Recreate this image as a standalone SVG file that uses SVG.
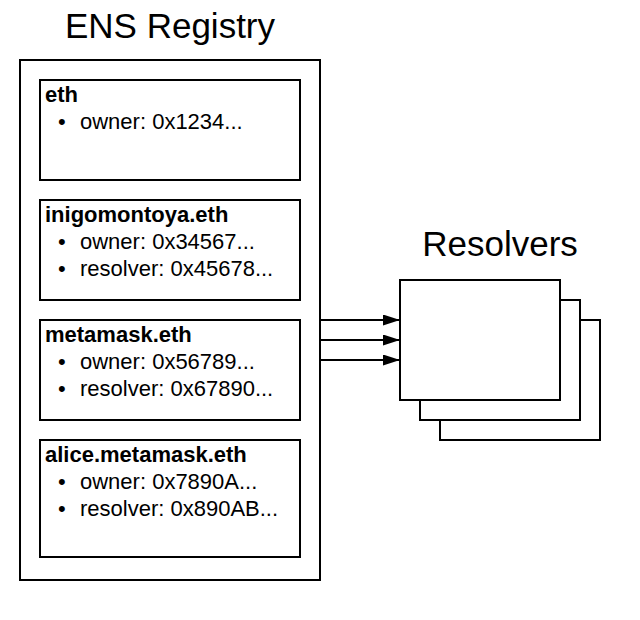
<svg xmlns="http://www.w3.org/2000/svg" width="640" height="620" viewBox="0 0 640 620">
<style>
.box{fill:#fff;stroke:#000;stroke-width:2}
.t{font-family:"Liberation Sans",Arial,sans-serif;fill:#000}
.h{font-size:35px}
.b{font-size:22px;font-weight:bold}
.i{font-size:22px}
.c{stroke:#000;stroke-width:2;fill:none}
</style>
<defs>
<marker id="ah" markerWidth="17" markerHeight="11" refX="17" refY="5.5" orient="auto" markerUnits="userSpaceOnUse">
<path d="M0,0 L17,5.5 L0,11 Z" fill="#000"/>
</marker>
</defs>
<rect width="640" height="620" fill="#fff"/>
<g id="registry">
<text class="t h" x="170" y="38" text-anchor="middle">ENS Registry</text>
<rect class="box" x="20" y="60" width="300" height="520"/>
</g>
<g id="eth">
<rect class="box" x="40" y="80" width="260" height="100"/>
<text class="t b" x="45" y="102">eth</text>
<text class="t i" x="58" y="129">•</text><text class="t i" x="80" y="129">owner: 0x1234...</text>
</g>
<g id="inigomontoya">
<rect class="box" x="40" y="200" width="260" height="100"/>
<text class="t b" x="45" y="222">inigomontoya.eth</text>
<text class="t i" x="58" y="249">•</text><text class="t i" x="80" y="249">owner: 0x34567...</text>
<text class="t i" x="58" y="276">•</text><text class="t i" x="80" y="276">resolver: 0x45678...</text>
</g>
<g id="metamask">
<rect class="box" x="40" y="320" width="260" height="100"/>
<text class="t b" x="45" y="342">metamask.eth</text>
<text class="t i" x="58" y="369">•</text><text class="t i" x="80" y="369">owner: 0x56789...</text>
<text class="t i" x="58" y="396">•</text><text class="t i" x="80" y="396">resolver: 0x67890...</text>
</g>
<g id="alice">
<rect class="box" x="40" y="440" width="260" height="117"/>
<text class="t b" x="45" y="462">alice.metamask.eth</text>
<text class="t i" x="58" y="489">•</text><text class="t i" x="80" y="489">owner: 0x7890A...</text>
<text class="t i" x="58" y="516">•</text><text class="t i" x="80" y="516">resolver: 0x890AB...</text>
</g>
<g id="resolvers">
<text class="t h" x="500" y="256" text-anchor="middle">Resolvers</text>
<rect class="box" x="440" y="320" width="160" height="120"/>
<rect class="box" x="420" y="300" width="160" height="120"/>
<rect class="box" x="400" y="280" width="160" height="120"/>
</g>
<g id="connectors">
<line class="c" x1="320" y1="320" x2="400" y2="320" marker-end="url(#ah)"/>
<line class="c" x1="320" y1="340" x2="400" y2="340" marker-end="url(#ah)"/>
<line class="c" x1="320" y1="360" x2="400" y2="360" marker-end="url(#ah)"/>
</g>
</svg>
